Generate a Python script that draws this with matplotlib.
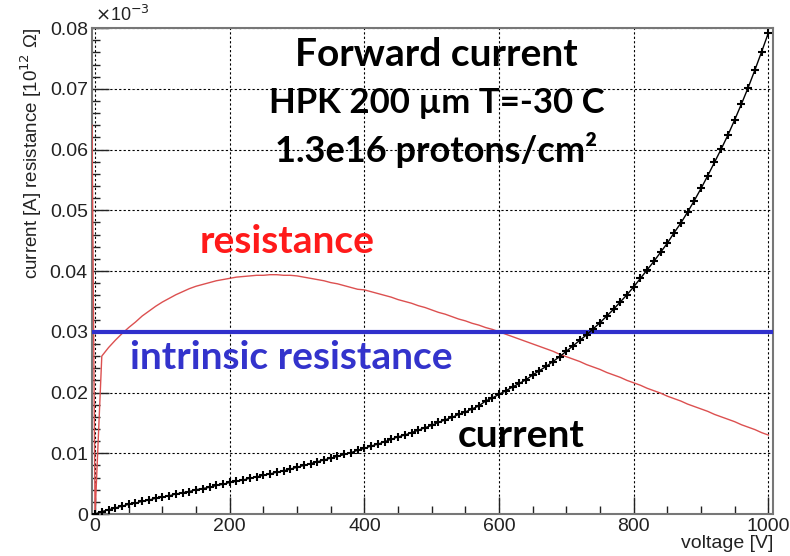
import matplotlib.pyplot as plt
from matplotlib.ticker import MultipleLocator

# current curve, one point every 10 V (plotted in units of 1e-3 A)
voltage = list(range(0, 1001, 10))
current = [
    0.0000, 0.0004, 0.0007, 0.0010, 0.0013, 0.0016, 0.0018, 0.0021, 0.0023, 0.0026,
    0.0028, 0.0030, 0.0033, 0.0035, 0.0037, 0.0040, 0.0042, 0.0044, 0.0047, 0.0049,
    0.0052, 0.0054, 0.0056, 0.0059, 0.0061, 0.0064, 0.0066, 0.0069, 0.0071, 0.0074,
    0.0077, 0.0080, 0.0083, 0.0086, 0.0089, 0.0092, 0.0095, 0.0098, 0.0101, 0.0105,
    0.0108, 0.0112, 0.0115, 0.0119, 0.0123, 0.0127, 0.0130, 0.0134, 0.0138, 0.0142,
    0.0146, 0.0151, 0.0155, 0.0159, 0.0164, 0.0168, 0.0173, 0.0178, 0.0186, 0.0191,
    0.0197, 0.0203, 0.0209, 0.0215, 0.0221, 0.0229, 0.0236, 0.0243, 0.0251, 0.0259,
    0.0268, 0.0277, 0.0286, 0.0295, 0.0305, 0.0315, 0.0326, 0.0337, 0.0349, 0.0361,
    0.0374, 0.0388, 0.0402, 0.0416, 0.0431, 0.0446, 0.0463, 0.0479, 0.0497, 0.0516,
    0.0536, 0.0557, 0.0579, 0.0601, 0.0624, 0.0649, 0.0675, 0.0702, 0.0731, 0.0761,
    0.0792,
]

# resistance curve (units of 1e9 Ohm), first two points are the spike at 0 V
res_voltage = [-4.5, 0] + list(range(10, 1001, 10))
resistance = [
    0.0640, 0.0000,
    0.0260, 0.0274, 0.0286, 0.0297, 0.0307, 0.0316, 0.0326, 0.0334, 0.0342,
    0.0349, 0.0355, 0.0361, 0.0366, 0.0371, 0.0375, 0.0378, 0.0381, 0.0384, 0.0386,
    0.0388, 0.0390, 0.0391, 0.0392, 0.0393, 0.0393, 0.0394, 0.0394, 0.0393, 0.0393,
    0.0392, 0.0390, 0.0388, 0.0386, 0.0384, 0.0381, 0.0379, 0.0376, 0.0373, 0.0370,
    0.0369, 0.0366, 0.0363, 0.0360, 0.0357, 0.0353, 0.0350, 0.0347, 0.0343, 0.0340,
    0.0336, 0.0332, 0.0329, 0.0325, 0.0321, 0.0318, 0.0314, 0.0311, 0.0307, 0.0304,
    0.0300, 0.0296, 0.0292, 0.0288, 0.0284, 0.0280, 0.0276, 0.0272, 0.0268, 0.0263,
    0.0259, 0.0255, 0.0251, 0.0246, 0.0242, 0.0238, 0.0233, 0.0229, 0.0225, 0.0220,
    0.0216, 0.0212, 0.0207, 0.0203, 0.0199, 0.0194, 0.0190, 0.0186, 0.0181, 0.0177,
    0.0173, 0.0169, 0.0164, 0.0160, 0.0156, 0.0152, 0.0147, 0.0143, 0.0139, 0.0134,
    0.0130,
]

intrinsic_resistance = 0.030

title_lines = ['Forward current', 'HPK 200 µm T=-30 C', '1.3e16 protons/cm²']

plt.rcParams['font.family'] = ['Liberation Sans', 'DejaVu Sans']

fig = plt.figure(figsize=(7.9, 5.56), dpi=100)
ax = fig.add_axes([0.1165, 0.0755, 0.8625, 0.874])

ax.plot(res_voltage, resistance, color='#dc5050', lw=1.0, zorder=3)
ax.axhline(intrinsic_resistance, color='#3030cc', lw=3, zorder=4)
ax.plot(voltage, current, color='black', lw=1.0, marker='+', ms=6, mew=1.5, zorder=5)

ax.set_xlim(-4.5, 1007.5)
ax.set_ylim(0, 0.08)
ax.xaxis.set_minor_locator(MultipleLocator(50))
ax.yaxis.set_minor_locator(MultipleLocator(0.002))
ax.set_yticks([0, 0.01, 0.02, 0.03, 0.04, 0.05, 0.06, 0.07, 0.08])
ax.set_yticklabels(['0', '0.01', '0.02', '0.03', '0.04', '0.05', '0.06', '0.07', '0.08'])
ax.set_xticks([0, 200, 400, 600, 800, 1000])
ax.set_xticklabels(['0', '200', '400', '600', '800', '1000'])

ax.tick_params(which='both', direction='in', top=False, right=False, colors='#222222',
               labelsize=14, labelcolor='#222222')
ax.tick_params(which='major', length=12, width=1)
ax.tick_params(which='minor', length=6, width=1)
ax.tick_params(axis='x', pad=3)
ax.tick_params(axis='y', pad=3)
for s in ax.spines.values():
    s.set_color('#777777')
    s.set_linewidth(1.5)

ax.grid(True, which='major', color='black', ls=(0, (2, 2)), lw=0.8)

ax.set_xlabel('voltage [V]', fontsize=14, color='#222222', loc='right', labelpad=0)
ax.set_ylabel('current [A] resistance [10$^{12}$ Ω]', fontsize=13.5, color='#222222',
              loc='top', labelpad=4)
fig.text(0.12, 0.962, r'$\times$10$^{-3}$', fontsize=13, color='#222222')

bold = dict(fontweight='bold', family=['Lato', 'DejaVu Sans'])
for y, line, size in zip([0.0756, 0.0677, 0.0599], title_lines, [28, 25, 26]):
    ax.text(507, y, line, ha='center', va='center', color='black', fontsize=size, **bold)
ax.text(156, 0.0448, 'resistance', color='#ff1a1a', ha='left', va='center',
        fontsize=28, **bold)
ax.text(52, 0.0257, 'intrinsic resistance', color='#3333cc', ha='left', va='center',
        fontsize=28, **bold)
ax.text(539, 0.0130, 'current', color='black', ha='left', va='center',
        fontsize=28, **bold)

fig.savefig('out.png', dpi=100)
